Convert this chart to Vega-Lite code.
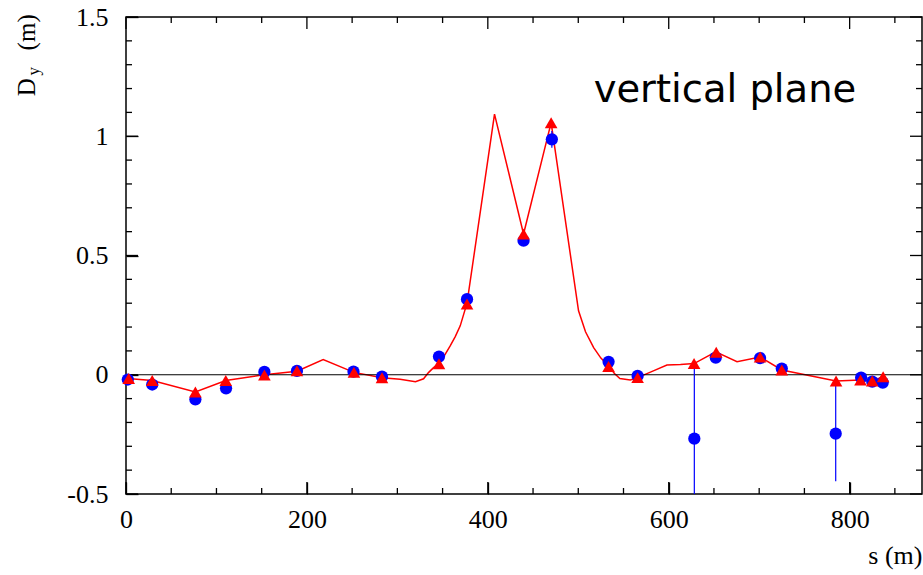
{
  "$schema": "https://vega.github.io/schema/vega-lite/v6.json",
  "width": 796,
  "height": 477,
  "autosize": {"type": "none"},
  "padding": {"left": 126, "top": 17, "right": 1, "bottom": 81},
  "background": "white",
  "config": {
    "view": {"stroke": "black", "strokeWidth": 1.5},
    "axis": {
      "grid": false,
      "domain": false,
      "ticks": true,
      "tickColor": "#000000",
      "tickWidth": 1.3,
      "labelFont": "Liberation Serif",
      "labelFontSize": 26,
      "labelColor": "black",
      "labelFlush": false,
      "labelOverlap": false,
      "labelBound": false,
      "titleFont": "Liberation Serif",
      "titleFontSize": 26,
      "titleFontWeight": "normal",
      "titleColor": "black"
    }
  },
  "datasets": {
    "curve": [
      {"s": 2, "d": -0.016}, {"s": 29, "d": -0.024}, {"s": 76.7, "d": -0.072}, {"s": 110.3, "d": -0.024},
      {"s": 153, "d": 0.0}, {"s": 189, "d": 0.015}, {"s": 218, "d": 0.064}, {"s": 252, "d": 0.01},
      {"s": 283, "d": -0.013}, {"s": 303, "d": -0.019}, {"s": 320, "d": -0.029}, {"s": 329, "d": -0.017},
      {"s": 334.4, "d": 0.009}, {"s": 340, "d": 0.03}, {"s": 346, "d": 0.047}, {"s": 352, "d": 0.08}, {"s": 358.4, "d": 0.121},
      {"s": 364, "d": 0.16}, {"s": 369.5, "d": 0.205}, {"s": 377, "d": 0.3}, {"s": 407.4, "d": 1.093}, {"s": 439.5, "d": 0.59},
      {"s": 470, "d": 1.057}, {"s": 500.3, "d": 0.268}, {"s": 508, "d": 0.18}, {"s": 517, "d": 0.114}, {"s": 525, "d": 0.07}, {"s": 533.5, "d": 0.037},
      {"s": 540, "d": 0.005}, {"s": 546, "d": -0.016}, {"s": 557.5, "d": -0.022}, {"s": 565.6, "d": -0.012}, {"s": 583, "d": 0.016},
      {"s": 598, "d": 0.041}, {"s": 613, "d": 0.043}, {"s": 628, "d": 0.047}, {"s": 652, "d": 0.096},
      {"s": 675.5, "d": 0.055}, {"s": 701, "d": 0.074}, {"s": 725, "d": 0.02}, {"s": 785, "d": -0.026},
      {"s": 812, "d": -0.022}, {"s": 825, "d": -0.026}, {"s": 837, "d": -0.008}
    ],
    "triangles": [
      {"s": 3, "d": -0.016}, {"s": 29, "d": -0.024}, {"s": 76.7, "d": -0.072}, {"s": 110.3, "d": -0.024},
      {"s": 153, "d": -0.001}, {"s": 189, "d": 0.017}, {"s": 252, "d": 0.01}, {"s": 283, "d": -0.013},
      {"s": 346, "d": 0.046}, {"s": 377, "d": 0.297}, {"s": 439.5, "d": 0.59}, {"s": 470, "d": 1.057},
      {"s": 533.5, "d": 0.035}, {"s": 565.6, "d": -0.012}, {"s": 628, "d": 0.047}, {"s": 652.5, "d": 0.094},
      {"s": 701, "d": 0.074}, {"s": 725, "d": 0.02}, {"s": 785, "d": -0.026}, {"s": 812, "d": -0.022},
      {"s": 825, "d": -0.026}, {"s": 837, "d": -0.008}
    ],
    "circles": [
      {"s": 2, "d": -0.02}, {"s": 29, "d": -0.041}, {"s": 76.7, "d": -0.103}, {"s": 110.6, "d": -0.057},
      {"s": 153, "d": 0.012}, {"s": 189, "d": 0.016}, {"s": 251.5, "d": 0.013}, {"s": 283, "d": -0.008},
      {"s": 346, "d": 0.076}, {"s": 377, "d": 0.317}, {"s": 439.5, "d": 0.562}, {"s": 470.8, "d": 0.987},
      {"s": 533.5, "d": 0.054}, {"s": 565.6, "d": -0.005}, {"s": 628.3, "d": -0.268}, {"s": 652, "d": 0.072},
      {"s": 701, "d": 0.07}, {"s": 725, "d": 0.026}, {"s": 784.6, "d": -0.247}, {"s": 812.7, "d": -0.012},
      {"s": 825, "d": -0.029}, {"s": 836.6, "d": -0.033}
    ],
    "errors": [
      {"s": 470.8, "lo": 0.952, "hi": 1.022},
      {"s": 628.3, "lo": -0.576, "hi": 0.04},
      {"s": 784.6, "lo": -0.447, "hi": -0.047}
    ],
    "xMajor": [{"s": 0}, {"s": 200}, {"s": 400}, {"s": 600}, {"s": 800}],
    "xMinor": [{"s": 50}, {"s": 100}, {"s": 150}, {"s": 250}, {"s": 300}, {"s": 350}, {"s": 450}, {"s": 500}, {"s": 550}, {"s": 650}, {"s": 700}, {"s": 750}, {"s": 850}],
    "yMajor": [{"d": -0.5}, {"d": 0}, {"d": 0.5}, {"d": 1}, {"d": 1.5}],
    "yMinor": [{"d": -0.4}, {"d": -0.3}, {"d": -0.2}, {"d": -0.1}, {"d": 0.1}, {"d": 0.2}, {"d": 0.3}, {"d": 0.4}, {"d": 0.6}, {"d": 0.7}, {"d": 0.8}, {"d": 0.9}, {"d": 1.1}, {"d": 1.2}, {"d": 1.3}, {"d": 1.4}]
  },
  "layer": [
    {
      "data": {"name": "curve"},
      "mark": {"type": "line", "color": "#ff0000", "strokeWidth": 1.5},
      "encoding": {
        "x": {
          "field": "s", "type": "quantitative",
          "scale": {"domain": [0, 880], "nice": false, "zero": false},
          "axis": {"orient": "bottom", "values": [0, 200, 400, 600, 800], "offset": -12, "tickSize": 12, "labelExpr": "toString(datum.value)", "labelPadding": 12, "title": "s (m)", "titleAnchor": "end", "titleAlign": "right", "titlePadding": 10}
        },
        "y": {
          "field": "d", "type": "quantitative",
          "scale": {"domain": [-0.5, 1.5], "nice": false, "zero": false},
          "axis": {"orient": "left", "values": [-0.5, 0, 0.5, 1, 1.5], "offset": -12, "tickSize": 12, "labelExpr": "toString(datum.value)", "labelPadding": 18, "title": null}
        }
      }
    },
    {
      "data": {"values": [{}]},
      "mark": {"type": "rule", "color": "black", "strokeWidth": 1.2},
      "encoding": {
        "y": {"datum": 0, "type": "quantitative",
          "axis": {"orient": "left", "values": [-0.5, 0, 0.5, 1, 1.5], "offset": -12, "tickSize": 12, "labelExpr": "toString(datum.value)", "labelPadding": 18, "title": null}}
      }
    },
    {
      "data": {"name": "xMajor"},
      "mark": {"type": "rule", "color": "black", "strokeWidth": 1.3},
      "encoding": {
        "x": {"field": "s", "type": "quantitative",
          "axis": {"orient": "bottom", "values": [0, 200, 400, 600, 800], "offset": -12, "tickSize": 12, "labelExpr": "toString(datum.value)", "labelPadding": 12, "title": "s (m)", "titleAnchor": "end", "titleAlign": "right", "titlePadding": 10}},
        "y": {"datum": -0.5, "type": "quantitative",
          "axis": {"orient": "left", "values": [-0.5, 0, 0.5, 1, 1.5], "offset": -12, "tickSize": 12, "labelExpr": "toString(datum.value)", "labelPadding": 18, "title": null}},
        "y2": {"datum": -0.4497}
      }
    },
    {
      "data": {"name": "xMajor"},
      "mark": {"type": "rule", "color": "black", "strokeWidth": 1.3},
      "encoding": {
        "x": {"field": "s", "type": "quantitative",
          "axis": {"orient": "bottom", "values": [0, 200, 400, 600, 800], "offset": -12, "tickSize": 12, "labelExpr": "toString(datum.value)", "labelPadding": 12, "title": "s (m)", "titleAnchor": "end", "titleAlign": "right", "titlePadding": 10}},
        "y": {"datum": 1.5, "type": "quantitative",
          "axis": {"orient": "left", "values": [-0.5, 0, 0.5, 1, 1.5], "offset": -12, "tickSize": 12, "labelExpr": "toString(datum.value)", "labelPadding": 18, "title": null}},
        "y2": {"datum": 1.4497}
      }
    },
    {
      "data": {"name": "xMinor"},
      "mark": {"type": "rule", "color": "black", "strokeWidth": 1.3},
      "encoding": {
        "x": {"field": "s", "type": "quantitative",
          "axis": {"orient": "bottom", "values": [0, 200, 400, 600, 800], "offset": -12, "tickSize": 12, "labelExpr": "toString(datum.value)", "labelPadding": 12, "title": "s (m)", "titleAnchor": "end", "titleAlign": "right", "titlePadding": 10}},
        "y": {"datum": -0.5, "type": "quantitative",
          "axis": {"orient": "left", "values": [-0.5, 0, 0.5, 1, 1.5], "offset": -12, "tickSize": 12, "labelExpr": "toString(datum.value)", "labelPadding": 18, "title": null}},
        "y2": {"datum": -0.4748}
      }
    },
    {
      "data": {"name": "xMinor"},
      "mark": {"type": "rule", "color": "black", "strokeWidth": 1.3},
      "encoding": {
        "x": {"field": "s", "type": "quantitative",
          "axis": {"orient": "bottom", "values": [0, 200, 400, 600, 800], "offset": -12, "tickSize": 12, "labelExpr": "toString(datum.value)", "labelPadding": 12, "title": "s (m)", "titleAnchor": "end", "titleAlign": "right", "titlePadding": 10}},
        "y": {"datum": 1.5, "type": "quantitative",
          "axis": {"orient": "left", "values": [-0.5, 0, 0.5, 1, 1.5], "offset": -12, "tickSize": 12, "labelExpr": "toString(datum.value)", "labelPadding": 18, "title": null}},
        "y2": {"datum": 1.4748}
      }
    },
    {
      "data": {"name": "yMajor"},
      "mark": {"type": "rule", "color": "black", "strokeWidth": 1.3},
      "encoding": {
        "y": {"field": "d", "type": "quantitative",
          "axis": {"orient": "left", "values": [-0.5, 0, 0.5, 1, 1.5], "offset": -12, "tickSize": 12, "labelExpr": "toString(datum.value)", "labelPadding": 18, "title": null}},
        "x": {"datum": 0, "type": "quantitative",
          "axis": {"orient": "bottom", "values": [0, 200, 400, 600, 800], "offset": -12, "tickSize": 12, "labelExpr": "toString(datum.value)", "labelPadding": 12, "title": "s (m)", "titleAnchor": "end", "titleAlign": "right", "titlePadding": 10}},
        "x2": {"datum": 13.27}
      }
    },
    {
      "data": {"name": "yMajor"},
      "mark": {"type": "rule", "color": "black", "strokeWidth": 1.3},
      "encoding": {
        "y": {"field": "d", "type": "quantitative",
          "axis": {"orient": "left", "values": [-0.5, 0, 0.5, 1, 1.5], "offset": -12, "tickSize": 12, "labelExpr": "toString(datum.value)", "labelPadding": 18, "title": null}},
        "x": {"datum": 880, "type": "quantitative",
          "axis": {"orient": "bottom", "values": [0, 200, 400, 600, 800], "offset": -12, "tickSize": 12, "labelExpr": "toString(datum.value)", "labelPadding": 12, "title": "s (m)", "titleAnchor": "end", "titleAlign": "right", "titlePadding": 10}},
        "x2": {"datum": 866.73}
      }
    },
    {
      "data": {"name": "yMinor"},
      "mark": {"type": "rule", "color": "black", "strokeWidth": 1.3},
      "encoding": {
        "y": {"field": "d", "type": "quantitative",
          "axis": {"orient": "left", "values": [-0.5, 0, 0.5, 1, 1.5], "offset": -12, "tickSize": 12, "labelExpr": "toString(datum.value)", "labelPadding": 18, "title": null}},
        "x": {"datum": 0, "type": "quantitative",
          "axis": {"orient": "bottom", "values": [0, 200, 400, 600, 800], "offset": -12, "tickSize": 12, "labelExpr": "toString(datum.value)", "labelPadding": 12, "title": "s (m)", "titleAnchor": "end", "titleAlign": "right", "titlePadding": 10}},
        "x2": {"datum": 6.63}
      }
    },
    {
      "data": {"name": "yMinor"},
      "mark": {"type": "rule", "color": "black", "strokeWidth": 1.3},
      "encoding": {
        "y": {"field": "d", "type": "quantitative",
          "axis": {"orient": "left", "values": [-0.5, 0, 0.5, 1, 1.5], "offset": -12, "tickSize": 12, "labelExpr": "toString(datum.value)", "labelPadding": 18, "title": null}},
        "x": {"datum": 880, "type": "quantitative",
          "axis": {"orient": "bottom", "values": [0, 200, 400, 600, 800], "offset": -12, "tickSize": 12, "labelExpr": "toString(datum.value)", "labelPadding": 12, "title": "s (m)", "titleAnchor": "end", "titleAlign": "right", "titlePadding": 10}},
        "x2": {"datum": 873.37}
      }
    },
    {
      "data": {"name": "errors"},
      "mark": {"type": "rule", "color": "#0000ff", "strokeWidth": 1.2, "clip": true},
      "encoding": {
        "x": {"field": "s", "type": "quantitative",
          "axis": {"orient": "bottom", "values": [0, 200, 400, 600, 800], "offset": -12, "tickSize": 12, "labelExpr": "toString(datum.value)", "labelPadding": 12, "title": "s (m)", "titleAnchor": "end", "titleAlign": "right", "titlePadding": 10}},
        "y": {"field": "lo", "type": "quantitative",
          "axis": {"orient": "left", "values": [-0.5, 0, 0.5, 1, 1.5], "offset": -12, "tickSize": 12, "labelExpr": "toString(datum.value)", "labelPadding": 18, "title": null}},
        "y2": {"field": "hi"}
      }
    },
    {
      "data": {"name": "circles"},
      "mark": {"type": "point", "shape": "circle", "filled": true, "color": "#0000ff", "opacity": 1, "size": 150},
      "encoding": {
        "x": {"field": "s", "type": "quantitative",
          "axis": {"orient": "bottom", "values": [0, 200, 400, 600, 800], "offset": -12, "tickSize": 12, "labelExpr": "toString(datum.value)", "labelPadding": 12, "title": "s (m)", "titleAnchor": "end", "titleAlign": "right", "titlePadding": 10}},
        "y": {"field": "d", "type": "quantitative",
          "axis": {"orient": "left", "values": [-0.5, 0, 0.5, 1, 1.5], "offset": -12, "tickSize": 12, "labelExpr": "toString(datum.value)", "labelPadding": 18, "title": null}}
      }
    },
    {
      "data": {"name": "triangles"},
      "mark": {"type": "point", "shape": "triangle-up", "filled": true, "color": "#ff0000", "opacity": 1, "size": 160},
      "encoding": {
        "x": {"field": "s", "type": "quantitative",
          "axis": {"orient": "bottom", "values": [0, 200, 400, 600, 800], "offset": -12, "tickSize": 12, "labelExpr": "toString(datum.value)", "labelPadding": 12, "title": "s (m)", "titleAnchor": "end", "titleAlign": "right", "titlePadding": 10}},
        "y": {"field": "d", "type": "quantitative",
          "axis": {"orient": "left", "values": [-0.5, 0, 0.5, 1, 1.5], "offset": -12, "tickSize": 12, "labelExpr": "toString(datum.value)", "labelPadding": 18, "title": null}}
      }
    },
    {
      "data": {"values": [{}]},
      "mark": {"type": "text", "font": "DejaVu Sans", "fontSize": 38.5, "color": "black", "align": "left", "baseline": "alphabetic"},
      "encoding": {
        "x": {"datum": 517, "type": "quantitative",
          "axis": {"orient": "bottom", "values": [0, 200, 400, 600, 800], "offset": -12, "tickSize": 12, "labelExpr": "toString(datum.value)", "labelPadding": 12, "title": "s (m)", "titleAnchor": "end", "titleAlign": "right", "titlePadding": 10}},
        "y": {"datum": 1.145, "type": "quantitative",
          "axis": {"orient": "left", "values": [-0.5, 0, 0.5, 1, 1.5], "offset": -12, "tickSize": 12, "labelExpr": "toString(datum.value)", "labelPadding": 18, "title": null}},
        "text": {"value": "vertical plane"}
      }
    },
    {
      "data": {"values": [{}]},
      "mark": {"type": "text", "font": "Liberation Serif", "fontSize": 25, "color": "black", "align": "left", "baseline": "alphabetic", "angle": 270},
      "encoding": {
        "x": {"datum": -100.6, "type": "quantitative",
          "axis": {"orient": "bottom", "values": [0, 200, 400, 600, 800], "offset": -12, "tickSize": 12, "labelExpr": "toString(datum.value)", "labelPadding": 12, "title": "s (m)", "titleAnchor": "end", "titleAlign": "right", "titlePadding": 10}},
        "y": {"datum": 1.168, "type": "quantitative",
          "axis": {"orient": "left", "values": [-0.5, 0, 0.5, 1, 1.5], "offset": -12, "tickSize": 12, "labelExpr": "toString(datum.value)", "labelPadding": 18, "title": null}},
        "text": {"value": "D"}
      }
    },
    {
      "data": {"values": [{}]},
      "mark": {"type": "text", "font": "Liberation Serif", "fontSize": 17, "color": "black", "align": "left", "baseline": "alphabetic", "angle": 270},
      "encoding": {
        "x": {"datum": -96.5, "type": "quantitative",
          "axis": {"orient": "bottom", "values": [0, 200, 400, 600, 800], "offset": -12, "tickSize": 12, "labelExpr": "toString(datum.value)", "labelPadding": 12, "title": "s (m)", "titleAnchor": "end", "titleAlign": "right", "titlePadding": 10}},
        "y": {"datum": 1.255, "type": "quantitative",
          "axis": {"orient": "left", "values": [-0.5, 0, 0.5, 1, 1.5], "offset": -12, "tickSize": 12, "labelExpr": "toString(datum.value)", "labelPadding": 18, "title": null}},
        "text": {"value": "y"}
      }
    },
    {
      "data": {"values": [{}]},
      "mark": {"type": "text", "font": "Liberation Serif", "fontSize": 25, "color": "black", "align": "left", "baseline": "alphabetic", "angle": 270},
      "encoding": {
        "x": {"datum": -100.6, "type": "quantitative",
          "axis": {"orient": "bottom", "values": [0, 200, 400, 600, 800], "offset": -12, "tickSize": 12, "labelExpr": "toString(datum.value)", "labelPadding": 12, "title": "s (m)", "titleAnchor": "end", "titleAlign": "right", "titlePadding": 10}},
        "y": {"datum": 1.36, "type": "quantitative",
          "axis": {"orient": "left", "values": [-0.5, 0, 0.5, 1, 1.5], "offset": -12, "tickSize": 12, "labelExpr": "toString(datum.value)", "labelPadding": 18, "title": null}},
        "text": {"value": "(m)"}
      }
    }
  ]
}
